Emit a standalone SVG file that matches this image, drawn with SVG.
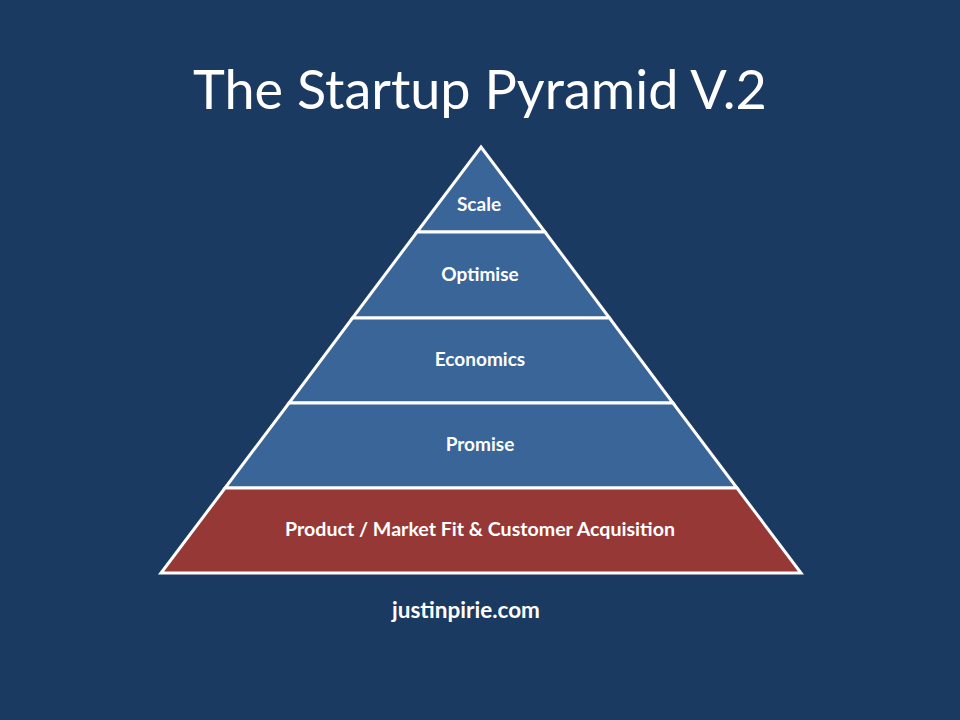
<svg xmlns="http://www.w3.org/2000/svg" width="960" height="720" viewBox="0 0 960 720">
<style>
.bg{fill:#1b3a62}
.layer{stroke:#ffffff;stroke-width:3;stroke-linejoin:miter}
.blue{fill:#3a6598}
.red{fill:#963836}
.lbl{font-family:Lato,"Open Sans","Liberation Sans",sans-serif;font-weight:bold;fill:#ffffff;text-anchor:middle;font-size:19px}
.title{font-family:Lato,"Open Sans","Liberation Sans",sans-serif;fill:#ffffff;text-anchor:middle;font-size:54px}
</style>
<rect class="bg" x="0" y="0" width="960" height="720"/>
<text class="title" x="480" y="109">The Startup Pyramid V.2</text>
<g id="scale"><polygon class="layer blue" points="481,147 545,232 417,232"/><text class="lbl" x="479" y="211">Scale</text></g>
<g id="optimise"><polygon class="layer blue" points="417,232 545,232 609.5,318 352.5,318"/><text class="lbl" x="480" y="281">Optimise</text></g>
<g id="economics"><polygon class="layer blue" points="352.5,318 609.5,318 673,403 289,403"/><text class="lbl" x="480" y="366">Economics</text></g>
<g id="promise"><polygon class="layer blue" points="289,403 673,403 737,488 225,488"/><text class="lbl" x="480" y="451">Promise</text></g>
<g id="pmf"><polygon class="layer red" points="225,488 737,488 801,573 161,573"/><text class="lbl" x="480" y="536" style="font-size:19.6px">Product / Market Fit &amp; Customer Acquisition</text></g>
<g id="connectors"/>
<text class="lbl" x="466" y="618" style="font-size:22.5px">justinpirie.com</text>
</svg>
